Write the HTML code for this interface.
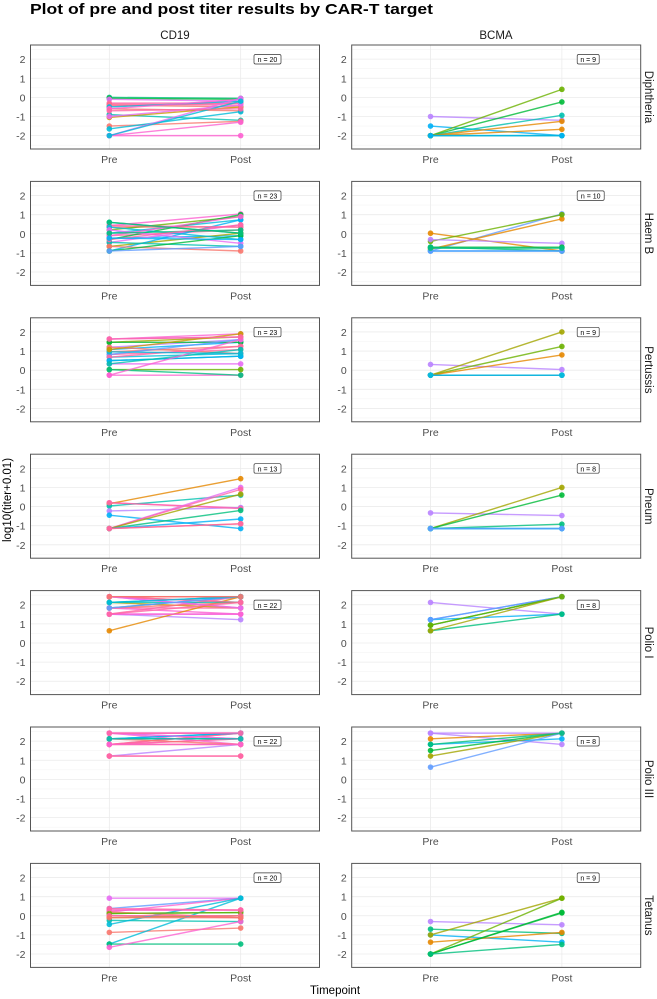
<!DOCTYPE html>
<html><head><meta charset="utf-8">
<style>
html,body{margin:0;padding:0;background:#fff;}
svg{display:block;font-family:"Liberation Sans",Arial,sans-serif;}
</style></head>
<body>
<svg id="chart" width="657" height="999" viewBox="0 0 657 999" xmlns="http://www.w3.org/2000/svg">
<text x="30" y="14" font-size="14.7" font-weight="bold" fill="#000" textLength="403" lengthAdjust="spacingAndGlyphs">Plot of pre and post titer results by CAR-T target</text>
<text x="175" y="39" font-size="11.5" fill="#1a1a1a" text-anchor="middle">CD19</text>
<text x="496" y="39" font-size="11.5" fill="#1a1a1a" text-anchor="middle">BCMA</text>
<text transform="translate(11,500) rotate(-90)" font-size="11.5" fill="#000" text-anchor="middle">log10(titer+0.01)</text>
<text x="335" y="994" font-size="11.5" fill="#000" text-anchor="middle">Timepoint</text>
<g id="panels"></g>
</svg>
<script>
const vaccines = ["Diphtheria","Haem B","Pertussis","Pneum","Polio I","Polio III","Tetanus"];
const targets = ["CD19","BCMA"];
const yTicks = [2,1,0,-1,-2];
const xCats = ["Pre","Post"];
const palette = ["#F8766D","#E58700","#C99800","#A3A500","#6BB100","#00BA38","#00BF7D","#00C0AF","#00BCD8","#00B0F6","#619CFF","#B983FF","#E76BF3","#FD61D1","#FF67A4"];

const dipCD19Pre  = [0,-0.05,-0.1,-0.3,-0.35,-0.4,-0.45,-0.5,-0.6,-0.6,-0.9,-1.05,-1.0,-1.5,-1.65,-2,-2,-2,-2,-0.7];
const dipCD19Post = [-0.05,-0.1,-0.2,-0.3,-0.4,-0.5,-0.3,-0.2,-0.7,-0.1,-1.2,-0.5,-0.4,-1.25,-0.75,-1.3,-2,-0.05,-0.2,-0.6];
const dipCD19Col  = [6,5,12,14,14,0,14,8,0,13,7,2,12,0,8,13,13,12,8,14];
const dipBCMAPre  = [-1,-1.5,-2,-2,-2,-2,-2,-2,-2];
const dipBCMAPost = [-1.2,-2,0.42,-0.24,-0.94,-1.25,-1.67,-2,-2];
const dipBCMACol  = [11,9,4,5,7,1,1,6,9];

const haeCD19Pre  = [0.6,0.43,0.35,0.2,0.03,-0.1,-0.23,-0.3,-0.45,-0.66,-0.9,0.43,0.35,0.2,-0.1,-0.45,-0.66,-0.9,0.03,-0.3,-0.23,0.6,-0.9];
const haeCD19Post = [0.03,1.04,0.35,0.9,0.73,0.2,-0.1,1.0,0.47,0.03,0.73,0.35,-0.3,-0.5,0.9,-0.66,-0.9,-0.1,0.2,0.47,-0.3,0.03,-0.66];
const haeCD19Col  = [6,13,0,4,8,14,9,5,12,3,9,14,8,12,13,7,0,5,6,14,9,6,10];
const haeBCMAPre  = [0.03,-0.9,-0.8,-0.4,-0.3,-0.7,-0.7,-0.9,-0.9,-0.75];
const haeBCMAPost = [-0.9,1.04,0.78,1.0,-0.5,-0.7,-0.9,-0.9,-0.9,-0.75];
const haeBCMACol  = [1,10,1,4,11,5,6,9,10,6];

const perCD19Pre  = [1.63,1.46,1.2,1.08,0.96,0.82,0.68,0.5,0.33,0.03,-0.26,1.63,1.46,1.2,0.82,0.68,0.5,0.33,0.03,-0.26,0.96,1.08,1.63];
const perCD19Post = [1.9,1.74,1.6,1.46,1.25,1.08,0.87,0.73,0.33,0.03,-0.26,1.74,1.46,0.87,1.6,1.25,0.73,1.08,-0.26,1.6,0.87,1.9,1.74];
const perCD19Col  = [13,3,11,9,0,14,8,7,12,4,13,12,5,0,10,14,9,7,6,13,8,2,14];
const perBCMAPre  = [0.3,-0.26,-0.26,-0.26,-0.26,-0.26,-0.26,-0.26,-0.26];
const perBCMAPost = [0.03,2.0,1.24,0.8,-0.26,-0.26,-0.26,-0.26,-0.26];
const perBCMACol  = [11,3,4,1,9,9,7,10,8];

const pneCD19Pre  = [0.2,0.15,0.03,-0.23,-0.45,0.2,-1.15,-1.15,-1.15,-1.15,-1.15,-1.15,-1.15];
const pneCD19Post = [-0.07,1.46,0.6,-0.05,-1.15,-0.1,1.0,0.9,0.65,-0.2,-0.65,-0.9,-0.9];
const pneCD19Col  = [13,1,7,11,9,14,12,14,3,6,9,0,14];
const pneBCMAPre  = [-0.33,-1.15,-1.15,-1.15,-1.15,-1.15,-1.15,-1.15];
const pneBCMAPost = [-0.47,1.0,0.6,-0.92,-1.15,-1.15,-1.15,-1.15];
const pneBCMACol  = [11,3,5,6,9,9,8,10];

const poiCD19Pre  = [2.42,2.42,2.42,2.12,2.12,1.83,1.83,1.83,1.51,1.51,1.51,0.64,2.42,2.42,2.12,1.83,1.51,2.42,1.83,2.12,1.51,2.42];
const poiCD19Post = [2.42,2.12,1.83,2.42,1.83,2.42,1.83,1.51,2.42,1.22,1.51,2.42,2.42,2.12,2.12,2.12,1.51,1.83,2.42,2.42,2.12,2.42];
const poiCD19Col  = [14,0,13,8,2,9,14,13,14,11,12,1,0,14,7,0,13,12,10,8,14,0];
const poiBCMAPre  = [2.12,1.22,1.22,0.93,0.64,0.64,1.22,0.93];
const poiBCMAPost = [1.51,2.42,1.51,2.42,1.51,2.42,2.42,2.42];
const poiBCMACol  = [11,10,9,5,6,3,10,4];

const poiiiCD19Pre  = [2.42,2.42,2.12,2.12,1.83,1.83,1.83,1.22,1.22,2.42,2.12,1.83,2.42,1.83,2.12,1.22,2.42,1.83,2.12,2.42,1.83,2.12];
const poiiiCD19Post = [2.42,2.12,2.42,2.12,2.42,1.83,2.12,1.83,1.22,1.83,2.12,2.42,2.42,1.83,2.42,1.22,2.12,2.12,1.83,2.42,1.83,2.12];
const poiiiCD19Col  = [12,14,7,8,0,0,13,11,14,13,6,14,13,0,9,14,12,14,0,14,13,7];
const poiiiBCMAPre  = [2.42,2.12,1.83,1.51,1.22,0.64,2.42,1.83];
const poiiiBCMAPost = [1.83,2.42,2.12,2.42,2.42,2.42,2.42,2.42];
const poiiiBCMACol  = [11,1,9,5,3,10,11,6];

const tetCD19Pre  = [0.92,0.38,0.3,0.2,0.12,0,0,-0.1,-0.24,-0.45,-0.87,-1.48,-1.48,-1.65,0.2,0.3,0.12,0,-0.1,0.38];
const tetCD19Post = [0.92,0.92,0.3,0.92,0.17,0,-0.1,0,-0.3,0.92,-0.64,0.92,-1.48,-0.3,-0.1,0.3,0.17,0,-0.1,0.3];
const tetCD19Col  = [12,10,14,13,5,0,14,3,7,8,0,8,6,13,0,13,4,14,0,14];
const tetBCMAPre  = [-0.3,-0.7,-1.0,-1.38,-1.0,-2,-2,-2,-2];
const tetBCMAPost = [-0.47,-0.92,-1.38,-0.87,0.92,0.92,0.18,0.15,-1.5];
const tetBCMACol  = [11,6,9,1,3,4,5,5,6];

const panelPre  = [[dipCD19Pre,dipBCMAPre],[haeCD19Pre,haeBCMAPre],[perCD19Pre,perBCMAPre],[pneCD19Pre,pneBCMAPre],[poiCD19Pre,poiBCMAPre],[poiiiCD19Pre,poiiiBCMAPre],[tetCD19Pre,tetBCMAPre]];
const panelPost = [[dipCD19Post,dipBCMAPost],[haeCD19Post,haeBCMAPost],[perCD19Post,perBCMAPost],[pneCD19Post,pneBCMAPost],[poiCD19Post,poiBCMAPost],[poiiiCD19Post,poiiiBCMAPost],[tetCD19Post,tetBCMAPost]];
const panelCol  = [[dipCD19Col,dipBCMACol],[haeCD19Col,haeBCMACol],[perCD19Col,perBCMACol],[pneCD19Col,pneBCMACol],[poiCD19Col,poiBCMACol],[poiiiCD19Col,poiiiBCMACol],[tetCD19Col,tetBCMACol]];
const nLabels   = [[20,9],[23,10],[23,9],[13,8],[22,8],[22,8],[20,9]];

const NS = "http://www.w3.org/2000/svg";
const root = document.getElementById("panels");
const colX0 = [30.5, 351.7], colW = 289;
const rowY0 = 45, rowPitch = 136.4, panelH = 104;
const yMin = -2.7, yMax = 2.74;
function mk(tag, attrs, parent){const e=document.createElementNS(NS,tag);for(const k in attrs)e.setAttribute(k,attrs[k]);parent.appendChild(e);return e;}

for(let r=0;r<vaccines.length;r++){
  const top = rowY0 + r*rowPitch;
  for(let c=0;c<2;c++){
    const x0 = colX0[c];
    const yS = v => top + (yMax - v)/(yMax - yMin)*panelH;
    const xS = i => x0 + colW*(0.6 + i)/2.2;
    const g = mk("g",{},root);
    
    
    for(let v=-2.5; v<=2.5; v+=1){
      mk("line",{x1:x0,x2:x0+colW,y1:yS(v),y2:yS(v),stroke:"#f4f4f4","stroke-width":0.6},g);
    }
    for(const v of yTicks){
      const gl = mk("line",{x1:x0,x2:x0+colW,y1:yS(v),y2:yS(v),stroke:"#ebebeb","stroke-width":0.8},g);
      
      
      const t = mk("text",{x:x0-5,y:yS(v)+4,"font-size":"10.5",fill:"#4d4d4d","text-anchor":"end"},g);
      
      
      t.textContent = v;
    }
    for(let i=0;i<xCats.length;i++){
      mk("line",{x1:xS(i),x2:xS(i),y1:top,y2:top+panelH,stroke:"#ebebeb","stroke-width":0.8},g);
      const t = mk("text",{x:xS(i),y:top+panelH+14,"font-size":"10.5",fill:"#4d4d4d","text-anchor":"middle"},g);
      
      
      t.textContent = xCats[i];
    }
    const pre = panelPre[r][c], post = panelPost[r][c], col = panelCol[r][c];
    for(let k=0;k<pre.length;k++){
      const color = palette[col[k] % palette.length];
      const ln = mk("line",{x1:xS(0),y1:yS(pre[k]),x2:xS(1),y2:yS(post[k]),stroke:color,"stroke-width":1.4,"stroke-opacity":0.8},g);
      
      
      const p1 = mk("circle",{cx:xS(0),cy:yS(pre[k]),r:2.8,fill:color,"fill-opacity":0.9},g);
      
      
      const p2 = mk("circle",{cx:xS(1),cy:yS(post[k]),r:2.8,fill:color,"fill-opacity":0.9},g);
      
      
    }
    const b = mk("rect",{x:x0,y:top,width:colW,height:panelH,fill:"none",stroke:"#555","stroke-width":1},g);
    
    
    const txt = "n = " + nLabels[r][c];
    const bw = txt.length > 5 ? 27 : 22;
    const bx = c===0 ? x0+223.5 : x0+225.5;
    const lb = mk("rect",{x:bx,y:top+9.5,width:bw,height:9.5,rx:1.5,fill:"#fff",stroke:"#333","stroke-width":0.7},g);
    
    
    const lt = mk("text",{x:bx+bw/2,y:top+17.2,"font-size":"7","fill":"#000","text-anchor":"middle"},g);
    
    
    lt.textContent = txt;
  }
  const st = mk("text",{transform:"translate(645,"+(top+panelH/2)+") rotate(90)","font-size":"11.5",fill:"#1a1a1a","text-anchor":"middle"},root);
  
  
  st.textContent = vaccines[r];
}
</script>
</body></html>
